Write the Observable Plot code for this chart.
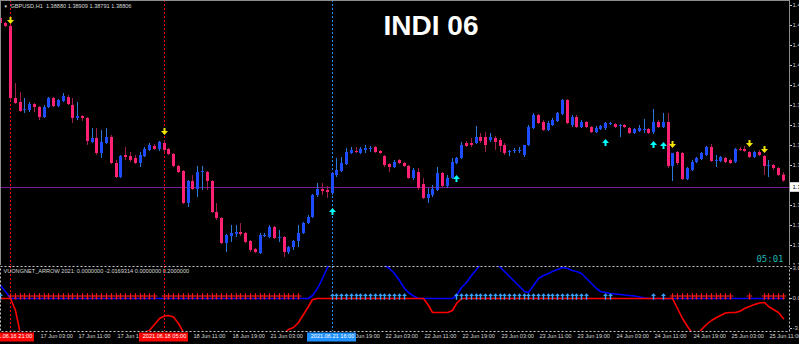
<!DOCTYPE html>
<html><head><meta charset="utf-8">
<script src="https://cdn.jsdelivr.net/npm/d3@7"></script>
<script src="https://cdn.jsdelivr.net/npm/@observablehq/plot@0.6"></script>
<style>
html,body{margin:0;padding:0;background:#000;overflow:hidden;width:799px;height:344px}
#wrap{position:relative;width:799px;height:344px;background:#000;overflow:hidden}
#wrap svg{position:absolute;left:0;overflow:hidden}
</style></head><body><div id="wrap"></div>
<script>
// ---- GBPUSD H1, bars from 2021.06.16 19:00 (index -2) to 2021.06.25 14:00 (index 161)
const firstBar = -2;
const open = [
1.40838,1.40775,1.40738,1.39838,1.39788,1.39688,1.39688,1.39762,1.39725,1.39600,
1.39725,1.39838,1.39738,1.39800,1.39850,1.39750,1.39588,1.39612,1.39588,1.39288,
1.39338,1.39150,1.39275,1.39350,1.39025,1.38850,1.39125,1.39112,1.39088,1.39025,
1.39112,1.39188,1.39238,1.39200,1.39275,1.39200,1.39138,1.38988,1.38925,1.38525,
1.38800,1.38700,1.38912,1.38912,1.38800,1.38412,1.38338,1.38025,1.38112,1.38138,
1.38162,1.38150,1.38050,1.37950,1.37900,1.38112,1.38100,1.38225,1.38088,1.38100,
1.37912,1.37975,1.38050,1.38150,1.38275,1.38350,1.38625,1.38700,1.38688,1.38650,
1.38875,1.38925,1.39012,1.39150,1.39175,1.39150,1.39188,1.39200,1.39225,1.39175,
1.39112,1.39012,1.38975,1.39062,1.39025,1.38988,1.38838,1.38912,1.38762,1.38588,
1.38625,1.38688,1.38900,1.38738,1.38838,1.39025,1.39088,1.39275,1.39275,1.39275,
1.39350,1.39350,1.39312,1.39338,1.39312,1.39250,1.39162,1.39175,1.39175,1.39125,
1.39250,1.39462,1.39625,1.39538,1.39438,1.39500,1.39550,1.39638,1.39812,1.39500,
1.39600,1.39475,1.39538,1.39475,1.39412,1.39450,1.39462,1.39512,1.39512,1.39488,
1.39500,1.39462,1.39400,1.39425,1.39438,1.39450,1.39412,1.39538,1.39475,1.39538,
1.38988,1.39162,1.39150,1.38825,1.38938,1.39038,1.39075,1.39125,1.39225,1.39050,
1.39050,1.39088,1.39062,1.39038,1.39200,1.39200,1.39162,1.39100,1.39162,1.39112,
1.38988,1.39000,1.38962,1.38880];
const high = [
1.40850,1.40788,1.40750,1.40025,1.39912,1.39838,1.39788,1.39775,1.39738,1.39750,
1.39850,1.39850,1.39825,1.39900,1.39875,1.39838,1.39788,1.39625,1.39600,1.39462,
1.39462,1.39438,1.39462,1.39375,1.39062,1.39125,1.39225,1.39162,1.39125,1.39162,
1.39225,1.39275,1.39262,1.39300,1.39312,1.39212,1.39150,1.39000,1.38938,1.38812,
1.38875,1.38988,1.38988,1.38925,1.38812,1.38525,1.38350,1.38138,1.38250,1.38250,
1.38275,1.38162,1.38062,1.37962,1.38150,1.38150,1.38250,1.38238,1.38188,1.38112,
1.37988,1.38062,1.38250,1.38288,1.38375,1.38638,1.38775,1.38775,1.38738,1.38912,
1.39088,1.39100,1.39212,1.39225,1.39225,1.39225,1.39250,1.39238,1.39238,1.39188,
1.39125,1.39025,1.39062,1.39075,1.39038,1.39000,1.38962,1.38962,1.38838,1.38712,
1.38750,1.38975,1.38912,1.38875,1.39088,1.39100,1.39288,1.39300,1.39338,1.39488,
1.39400,1.39412,1.39400,1.39362,1.39338,1.39275,1.39188,1.39212,1.39225,1.39250,
1.39500,1.39650,1.39638,1.39562,1.39550,1.39588,1.39662,1.39825,1.39825,1.39625,
1.39625,1.39562,1.39550,1.39488,1.39488,1.39500,1.39538,1.39538,1.39525,1.39512,
1.39512,1.39475,1.39462,1.39500,1.39575,1.39462,1.39700,1.39562,1.39650,1.39650,
1.39150,1.39175,1.39162,1.38975,1.39062,1.39100,1.39162,1.39238,1.39262,1.39125,
1.39112,1.39100,1.39075,1.39212,1.39225,1.39238,1.39175,1.39175,1.39188,1.39125,
1.39062,1.39012,1.38975,1.38909];
const low = [
1.40762,1.40725,1.39800,1.39762,1.39662,1.39650,1.39662,1.39662,1.39562,1.39588,
1.39712,1.39725,1.39725,1.39788,1.39750,1.39525,1.39562,1.39550,1.39250,1.39275,
1.39125,1.39088,1.39262,1.39012,1.38838,1.38838,1.39062,1.39038,1.39012,1.38975,
1.39100,1.39175,1.39188,1.39175,1.39162,1.39125,1.38975,1.38900,1.38512,1.38475,
1.38688,1.38600,1.38688,1.38688,1.38400,1.38312,1.38012,1.37912,1.38038,1.38100,
1.38112,1.38025,1.37912,1.37900,1.37888,1.38100,1.38088,1.38075,1.38038,1.37850,
1.37888,1.37938,1.37975,1.38138,1.38262,1.38338,1.38600,1.38625,1.38588,1.38625,
1.38850,1.38912,1.39000,1.39138,1.39150,1.39138,1.39150,1.39162,1.39150,1.39138,
1.38975,1.38912,1.38962,1.39012,1.38975,1.38825,1.38812,1.38688,1.38575,1.38525,
1.38600,1.38675,1.38725,1.38712,1.38825,1.39012,1.39075,1.39225,1.39225,1.39262,
1.39275,1.39162,1.39288,1.39188,1.39162,1.39125,1.39112,1.39150,1.39150,1.39100,
1.39238,1.39450,1.39512,1.39425,1.39425,1.39488,1.39538,1.39625,1.39512,1.39475,
1.39462,1.39462,1.39462,1.39400,1.39400,1.39438,1.39438,1.39500,1.39462,1.39350,
1.39462,1.39388,1.39388,1.39412,1.39400,1.39388,1.39388,1.39462,1.39462,1.38962,
1.38800,1.39000,1.38812,1.38812,1.38925,1.39025,1.39062,1.39112,1.39038,1.38975,
1.39038,1.39025,1.39012,1.39025,1.39175,1.39162,1.39088,1.39088,1.39112,1.38875,
1.38850,1.38938,1.38862,1.38791];
const close = [
1.40775,1.40738,1.39838,1.39775,1.39675,1.39700,1.39762,1.39725,1.39600,1.39725,
1.39838,1.39738,1.39812,1.39862,1.39762,1.39588,1.39612,1.39588,1.39300,1.39338,
1.39150,1.39288,1.39350,1.39025,1.38850,1.39112,1.39100,1.39062,1.39025,1.39125,
1.39200,1.39250,1.39200,1.39288,1.39188,1.39138,1.38988,1.38912,1.38525,1.38800,
1.38700,1.38912,1.38925,1.38800,1.38412,1.38338,1.38025,1.38125,1.38150,1.38162,
1.38138,1.38038,1.37938,1.37912,1.38125,1.38125,1.38225,1.38088,1.38100,1.37912,
1.37975,1.38050,1.38150,1.38275,1.38350,1.38625,1.38700,1.38675,1.38662,1.38900,
1.38938,1.39025,1.39162,1.39188,1.39162,1.39200,1.39212,1.39212,1.39162,1.39150,
1.39000,1.38975,1.39038,1.39025,1.38988,1.38838,1.38938,1.38712,1.38588,1.38638,
1.38700,1.38900,1.38738,1.38838,1.39038,1.39088,1.39250,1.39238,1.39250,1.39350,
1.39300,1.39250,1.39350,1.39288,1.39238,1.39150,1.39175,1.39188,1.39188,1.39250,
1.39475,1.39625,1.39525,1.39438,1.39525,1.39562,1.39650,1.39812,1.39525,1.39600,
1.39475,1.39538,1.39475,1.39412,1.39462,1.39488,1.39525,1.39525,1.39475,1.39500,
1.39475,1.39400,1.39450,1.39462,1.39450,1.39400,1.39538,1.39475,1.39538,1.38988,
1.39150,1.39025,1.38825,1.38962,1.39038,1.39088,1.39150,1.39225,1.39050,1.39062,
1.39100,1.39038,1.39025,1.39200,1.39188,1.39175,1.39100,1.39162,1.39125,1.38988,
1.39000,1.38962,1.38875,1.38806];

// VUONGNET_ARROW buffers (same bars)
const blueLine = [
1.3,0.7,0,0,0,0,0,0,0,0, 0,0,0,0,0,0,0,0,0,0, 0,0,0,0,0,0,0,0,0,0,
0,0,0,0,0,0,0,0,0,0, 0,0,0,0,0,0,0,0,0,0, 0,0,0,0,0,0,0,0,0,0,
0,0,0,0,0,0.3,1.0,2.0,3.1,4.0, 4.6,5.0,5.2,5.3,5.2,5.0,4.7,4.4,4.0,3.7,
3.3,3.0,2.5,1.8,1.0,0.6,0.25,0,0,0, 0,0,0,0,0,0.3,1.1,1.6,2.3,2.9,
3.4,3.8,3.9,3.6,3.1,2.7,2.2,1.7,1.2,0.7, 0.6,1.3,2.0,2.3,2.5,2.7,2.9,3.1,3.0,2.8,
2.7,2.5,2.0,1.5,1.0,0.7,0.6,0.5,0.45,0.4, 0.35,0.3,0.25,0.15,0.05,0,0,0,0,0,
0,0,0,0,0,0,0,0,0,0, 0,0,0,0,0,0,0,0,0,0, 0,0,0,0];
const redLine = [
0,0,0,-1.2,-3.6,-4.8,-5.6,-6.1,-6.4,-6.5, -6.5,-6.4,-6.2,-6.0,-5.8,-5.7,-5.6,-5.6,-5.5,-5.4,
-5.3,-5.1,-4.9,-4.7,-4.5,-4.3,-4.1,-3.9,-3.7,-3.5, -3.4,-3.2,-2.6,-2.0,-1.75,-1.7,-1.85,-2.5,-3.4,-4.3,
-5.0,-5.6,-6.0,-6.3,-6.5,-6.6,-6.6,-6.5,-6.3,-6.0, -5.7,-5.4,-5.1,-4.8,-4.5,-4.2,-3.9,-3.7,-3.6,-3.5,
-3.1,-2.9,-2.4,-1.6,-0.8,-0.1,0,0,0,0, 0,0,0,0,0,0,0,0,0,0,
0,0,0,0,0,0,0,0,0,-0.7, -1.4,-1.4,-1.4,-1.4,-1.2,-0.5,0,0,0,0,
0,0,0,0,0,0,0,0,0,0, 0,0,0,0,0,0,0,0,0,0,
0,0,0,0,0,0,0,0,0,0, 0,0,0,0,0,0,0,0,0,0,
0,-1.0,-2.0,-2.8,-3.5,-3.8,-3.1,-2.6,-2.2,-1.9, -1.7,-1.45,-1.4,-1.4,-1.25,-1.0,-0.8,-0.6,-0.45,-0.4,
-0.8,-1.1,-1.4,-2.0169314];
const arrowLevel = 0.2;
const redArrowBars = [...d3.range(0,31), ...d3.range(32,61), ...d3.range(138,151), 154, ...d3.range(157,162)];
const blueArrowBars = [-2, ...d3.range(67,83), ...d3.range(93,121), 124, 125, 134, 136];

// signal arrows on the price chart
const sellBars = [0, 32, 138, 154, 157];
const sellPrices = [1.40812, 1.39425, 1.39262, 1.39275, 1.39200];
const buyBars = [67, 93, 124, 134, 136];
const buyPrices = [1.38425, 1.38838, 1.39288, 1.39262, 1.39250];

// vertical lines
const vBars = [0, 32, 67];
const vLabels = ["2021.06.16 21:00", "2021.06.18 05:00", "2021.06.21 16:00"];
const vColors = ["#ff0000", "#ff0000", "#1e90ff"];

// time axis (labels hidden under the line boxes are left out)
const tickBars = [6,14,22,38,46,54,70,78,86,94,102,110,118,126,134,142,150,158];
const tickLabels = ["17 Jun 03:00","17 Jun 11:00","17 Jun 19:00","18 Jun 11:00",
"18 Jun 19:00","21 Jun 03:00","21 Jun 19:00","22 Jun 03:00","22 Jun 11:00","22 Jun 19:00",
"23 Jun 03:00","23 Jun 11:00","23 Jun 19:00","24 Jun 03:00","24 Jun 11:00","24 Jun 19:00","25 Jun 03:00","25 Jun 11:00"];
const priceTicks = [1.41,1.4075,1.405,1.4025,1.40,1.3975,1.395,1.3925,1.39,1.385,1.3825,1.38,1.3775];
const levelLine = 1.38725;
const indTicks = [3, 0, -3];
const indTickLabels = ["3.00", "0.00", "-3.00"];

const headerText = "GBPUSD,H1  1.38880 1.38909 1.38791 1.38806";
const indHeader = "VUONGNET_ARROW 2021: 0.0000000 -2.0169314 0.0000000 0.2000000";
const titleText = "INDI 06";
const timerText = "05:01";

// ---- build
const bars = open.map((o, k) => ({i: k + firstBar, o, h: high[k], l: low[k], c: close[k]}));
const ind = blueLine.map((b, k) => ({i: k + firstBar, b, r: redLine[k]}));
const vl = vBars.map((i, k) => ({i, label: vLabels[k], color: vColors[k]}));
const ticks = tickBars.map((i, k) => ({i, label: tickLabels[k]}));

const BULL = "#1f4cff", BEAR = "#ff2274", BULLW = "#2a78d8", BEARW = "#a0204c";
const xDomain = [-2.0833, 162.2917];
const font = "Liberation Sans, Arial, sans-serif";
const FS = 5.6;

function sym(pts) {
  return {draw(ctx, size) {
    const s = Math.sqrt(size / Math.PI) / 3.5;
    ctx.moveTo(pts[0][0]*s, pts[0][1]*s);
    for (const p of pts.slice(1)) ctx.lineTo(p[0]*s, p[1]*s);
    ctx.closePath();
  }};
}
const downPts = [[-1,-3.5],[1,-3.5],[1,-0.5],[3.5,-0.5],[0,3.5],[-3.5,-0.5],[-1,-0.5]];
const upPts = downPts.map(([a,b]) => [a,-b]);
const arrowDown = sym(downPts), arrowUp = sym(upPts);
const crossDown = sym([[-0.6,-3.5],[0.6,-3.5],[0.6,-1.2],[3,-1.2],[3,0],[0.6,0],[0.6,1.5],[2,1.5],[0,3.5],[-2,1.5],[-0.6,1.5],[-0.6,0],[-3,0],[-3,-1.2],[-0.6,-1.2]]);
const upSmall = sym([[0,-3.5],[2.6,-0.5],[0.8,-0.5],[0.8,3.5],[-0.8,3.5],[-0.8,-0.5],[-2.6,-0.5]]);

const main = Plot.plot({
  width: 799, height: 265, marginTop: 0, marginBottom: 0, marginLeft: 0, marginRight: 10,
  style: {background: "transparent", color: "#c8c8c8", fontFamily: font, overflow: "hidden"},
  x: {domain: xDomain, axis: null, round: true},
  y: {domain: [1.3775, 1.410625], axis: null},
  marks: [
    Plot.ruleY([levelLine], {stroke: "#7a1a9a"}),
    Plot.ruleX(vl, {x: "i", stroke: "color", strokeDasharray: "2,2"}),
    Plot.ruleX(bars, {x: "i", y1: "l", y2: "h", stroke: d => d.c >= d.o ? BULLW : BEARW}),
    Plot.ruleX(bars, {x: "i", y1: "o", y2: "c", stroke: d => d.c >= d.o ? BULL : BEAR, strokeWidth: 3}),
    Plot.dot(sellBars.map((i, k) => ({i, p: sellPrices[k]})), {x: "i", y: "p", symbol: arrowDown, r: 3.5, fill: "#f2e600", stroke: "none"}),
    Plot.dot(buyBars.map((i, k) => ({i, p: buyPrices[k]})), {x: "i", y: "p", symbol: arrowUp, r: 3.5, fill: "#00ffff", stroke: "none"}),
    Plot.axisY({anchor: "right", ticks: priceTicks, tickFormat: d3.format(".5f"), tickSize: 2, tickPadding: 1, fontSize: 6, fill: "#c8c8c8", stroke: "#c8c8c8"}),
    Plot.rect([levelLine], {x1: 162.35, x2: 165, y1: d => d - 0.0006, y2: d => d + 0.0006, fill: "#ffffff"}),
    Plot.text([levelLine], {x: 162.35, y: d => d, text: d => d.toFixed(5), textAnchor: "start", dx: 3, fontSize: 6, fill: "#000"}),
    Plot.frame({stroke: "#8c8c8c"}),
    Plot.text([headerText], {frameAnchor: "top-left", dx: 10, dy: 4, fontSize: FS, fill: "#d8d8d8"}),
    Plot.text(["▼"], {frameAnchor: "top-left", dx: 3, dy: 4.5, fontSize: 4.5, fill: "#d8d8d8"}),
    Plot.text([titleText], {frameAnchor: "top", dx: 36, dy: 15, fontSize: 28, fontWeight: "bold", fill: "#ffffff"}),
    Plot.text([timerText], {frameAnchor: "bottom-right", dx: -6, dy: -4, fontSize: 9, fill: "#1fb5b0", fontFamily: "DejaVu Sans Mono, monospace"})
  ]
});

const indicator = Plot.plot({
  width: 799, height: 78, marginTop: 0, marginBottom: 13, marginLeft: 0, marginRight: 10,
  style: {background: "transparent", color: "#c8c8c8", fontFamily: font, overflow: "hidden"},
  x: {domain: xDomain, axis: null, round: true},
  y: {domain: [-3.3, 3.2], axis: null},
  marks: [
    Plot.ruleX(vl, {x: "i", stroke: "color", strokeDasharray: "2,2"}),
    Plot.line(ind, {x: "i", y: "b", stroke: "#0000ff", strokeWidth: 1.6, clip: true}),
    Plot.line(ind, {x: "i", y: "r", stroke: "#ff0000", strokeWidth: 1.6, clip: true}),
    Plot.dot(redArrowBars, {x: d => d, y: () => arrowLevel, symbol: crossDown, r: 3.2, fill: "#ff1a1a", stroke: "none"}),
    Plot.dot(blueArrowBars, {x: d => d, y: () => arrowLevel, symbol: upSmall, r: 3.2, fill: "#39a0ff", stroke: "none"}),
    Plot.axisY({anchor: "right", ticks: indTicks, tickFormat: (d, k) => indTickLabels[k], tickSize: 2, tickPadding: 1, fontSize: 6, fill: "#c8c8c8", stroke: "#c8c8c8"}),
    Plot.frame({stroke: "#c8c8c8", strokeDasharray: "2,2"}),
    Plot.text(ticks, {x: "i", text: "label", frameAnchor: "bottom", textAnchor: "start", dx: 1, dy: 6.5, fontSize: FS, fill: "#d8d8d8"}),
    Plot.rect(vl, {x1: d => d.i - 5.1, x2: d => d.i + 5.1, y1: -3.45, y2: -4.35, fill: "color"}),
    Plot.text(vl, {x: "i", text: "label", frameAnchor: "bottom", dy: 6.5, fontSize: FS, fill: "#ffffff"}),
    Plot.text([indHeader], {frameAnchor: "top-left", dx: 3, dy: 3, fontSize: FS, fill: "#d8d8d8"})
  ]
});

const wrap = document.getElementById("wrap");
main.style.top = "0px";
indicator.style.top = "266px";
wrap.appendChild(main);
wrap.appendChild(indicator);
</script>
</body></html>
